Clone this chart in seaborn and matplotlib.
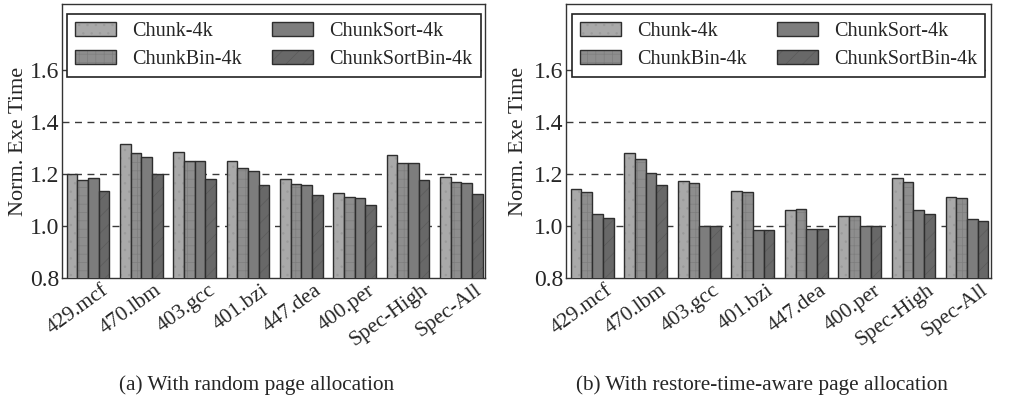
import numpy as np
import pandas as pd
import matplotlib
matplotlib.use("Agg")
import matplotlib.pyplot as plt
import matplotlib.colors as mcolors
import matplotlib.transforms as mtransforms
from matplotlib.patches import Patch
import seaborn as sns

benchmarks = ["429.mcf", "470.lbm", "403.gcc", "401.bzi", "447.dea", "400.per", "Spec-High", "Spec-All"]
schemes = ["Chunk-4k", "ChunkBin-4k", "ChunkSort-4k", "ChunkSortBin-4k"]

random_chunk = [1.200, 1.314, 1.285, 1.251, 1.182, 1.126, 1.274, 1.190]
random_chunkbin = [1.176, 1.281, 1.251, 1.222, 1.162, 1.110, 1.243, 1.171]
random_chunksort = [1.185, 1.265, 1.250, 1.213, 1.158, 1.106, 1.243, 1.167]
random_chunksortbin = [1.133, 1.199, 1.182, 1.158, 1.118, 1.080, 1.177, 1.125]

aware_chunk = [1.144, 1.282, 1.173, 1.136, 1.060, 1.038, 1.183, 1.113]
aware_chunkbin = [1.131, 1.256, 1.167, 1.132, 1.067, 1.037, 1.171, 1.106]
aware_chunksort = [1.047, 1.205, 1.000, 0.985, 0.987, 1.000, 1.062, 1.026]
aware_chunksortbin = [1.032, 1.159, 0.999, 0.985, 0.987, 0.999, 1.046, 1.019]

yticks = [0.8, 1.0, 1.2, 1.4, 1.6]
captions = ["(a) With random page allocation", "(b) With restore-time-aware page allocation"]

colors = ["#a9a9a9", "#8e8e8e", "#7d7d7d", "#686868"]
hatches = ["..", "++", "", "//"]
hatch_colors = ["#9a9a9a", "#7e7e7e", "#7d7d7d", "#5a5a5a"]
edge = "#2e2e2e"

sns.set_theme(style="white")
plt.rcParams["font.family"] = ["Liberation Serif", "DejaVu Serif"]
plt.rcParams["hatch.linewidth"] = 0.5


def make_df(vals):
    rows = []
    for s, v in zip(schemes, vals):
        for b, x in zip(benchmarks, v):
            rows.append({"bench": b, "scheme": s, "value": x})
    return pd.DataFrame(rows)


datasets = [
    make_df([random_chunk, random_chunkbin, random_chunksort, random_chunksortbin]),
    make_df([aware_chunk, aware_chunkbin, aware_chunksort, aware_chunksortbin]),
]

fig = plt.figure(figsize=(10.11, 3.99), dpi=100)
axes = [fig.add_axes([0.0613, 0.303, 0.4187, 0.687]),
        fig.add_axes([0.5598, 0.303, 0.4205, 0.687])]


def style_patch(p, i):
    p.set_facecolor(colors[i])
    p.set_edgecolor(edge)
    p.set_linewidth(1.0)
    p.set_hatch(hatches[i])
    p._hatch_color = mcolors.to_rgba(hatch_colors[i])


for k, (ax, df, cap) in enumerate(zip(axes, datasets, captions)):
    sns.barplot(data=df, x="bench", y="value", hue="scheme", hue_order=schemes,
                order=benchmarks, palette=colors, width=0.8, gap=0,
                edgecolor=edge, linewidth=1.0, ax=ax, legend=False, zorder=3)
    for i, cont in enumerate(ax.containers):
        for p in cont.patches:
            style_patch(p, i)
    ax.set_ylim(0.8, 1.853)
    ax.set_xlim(-0.49, 7.45)
    ax.set_yticks(yticks)
    ax.set_yticklabels([f"{t:.1f}" for t in yticks], fontsize=17)
    for y in [1.0, 1.2, 1.4, 1.6]:
        ax.axhline(y, color="#3a3a3a", linestyle=(0, (5, 4)), linewidth=1.0, zorder=1)
    ax.set_xticks(range(len(benchmarks)))
    ax.tick_params(axis="both", length=0, pad=2)
    ax.set_xticklabels(benchmarks, rotation=36, ha="right", rotation_mode="anchor", fontsize=15.5)
    offset = mtransforms.ScaledTranslation(0.13, 0.0, fig.dpi_scale_trans)
    for lbl in ax.get_xticklabels():
        lbl.set_transform(lbl.get_transform() + offset)
    ax.set_xlabel("")
    ax.set_ylabel("Norm. Exe Time", fontsize=16)
    ax.yaxis.set_label_coords(-0.080 if k == 0 else -0.089, 0.5)
    for sp in ax.spines.values():
        sp.set_color("#333333")
        sp.set_linewidth(1.0)
    handles = []
    for i, s in enumerate(schemes):
        h = Patch(facecolor=colors[i], edgecolor=edge, hatch=hatches[i], linewidth=1.0, label=s)
        h._hatch_color = mcolors.to_rgba(hatch_colors[i])
        handles.append(h)
    leg = ax.legend(handles=handles, ncol=2, loc="upper center",
                    bbox_to_anchor=(0.5, 0.965),
                    fontsize=14.5, frameon=True, fancybox=False, framealpha=1.0,
                    edgecolor="#222222", handlelength=2.05, handleheight=0.7,
                    columnspacing=1.5, handletextpad=0.8, borderpad=0.4,
                    labelspacing=0.45, borderaxespad=0)
    leg.get_frame().set_linewidth(1.2)
    leg.set_zorder(5)
    ax.text(0.46, -0.355, cap, transform=ax.transAxes, ha="center", va="top", fontsize=15.3)

fig.savefig("out.png", dpi=100)
